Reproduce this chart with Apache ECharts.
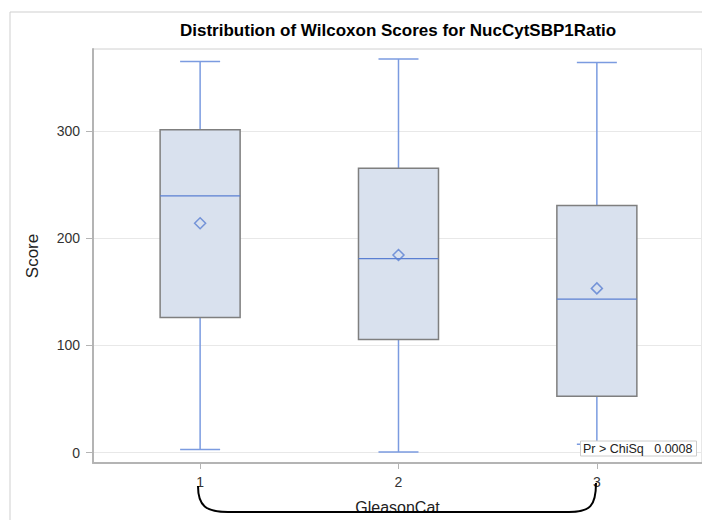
<!DOCTYPE html>
<html>
<head>
<meta charset="utf-8">
<script src="https://cdn.jsdelivr.net/npm/echarts@6/dist/echarts.min.js"></script>
<style>
  html, body { margin: 0; padding: 0; background: #fff; }
  #main { width: 702px; height: 520px; }
</style>
</head>
<body>
<div id="main"></div>
<script>
// categories of GleasonCat
var groups = [1, 2, 3];
// five-number summaries: min, Q1, median, Q3, max
var whiskerLow = [2.8, 0.6, 7.7];
var q1 = [126, 105.5, 52.6];
var median = [239.3, 180.8, 143.1];
var q3 = [300.9, 265.2, 230.3];
var whiskerHigh = [364.7, 366.9, 363.8];
var means = [213.8, 184.2, 153.1];
var yTicks = [0, 100, 200, 300];
var pValueText = 'Pr > ChiSq   0.0008';

var font = 'Liberation Sans, Arial, sans-serif';
var whiskerColor = '#7b9be0';
var medianColor = '#5a7fd2';

var boxData = [];
var meanData = [];
for (var i = 0; i < groups.length; i++) {
    boxData.push([groups[i], whiskerLow[i], q1[i], median[i], q3[i], whiskerHigh[i]]);
    meanData.push([groups[i], means[i]]);
}

function renderBox(params, api) {
    var x = api.value(0);
    var lo = api.coord([x, api.value(1)]);
    var b1 = api.coord([x, api.value(2)]);
    var md = api.coord([x, api.value(3)]);
    var b3 = api.coord([x, api.value(4)]);
    var hi = api.coord([x, api.value(5)]);
    var cx = lo[0];
    var bw = 80, cw = 40;
    var wStyle = { stroke: whiskerColor, lineWidth: 1.5 };
    return {
        type: 'group',
        children: [
            { type: 'line', shape: { x1: cx, y1: hi[1], x2: cx, y2: b3[1] }, style: wStyle },
            { type: 'line', shape: { x1: cx, y1: b1[1], x2: cx, y2: lo[1] }, style: wStyle },
            { type: 'line', shape: { x1: cx - cw / 2, y1: hi[1], x2: cx + cw / 2, y2: hi[1] }, style: wStyle },
            { type: 'line', shape: { x1: cx - cw / 2, y1: lo[1], x2: cx + cw / 2, y2: lo[1] }, style: wStyle },
            {
                type: 'rect',
                shape: { x: cx - bw / 2, y: b3[1], width: bw, height: b1[1] - b3[1] },
                style: { fill: '#d9e1ee', stroke: '#7f7f7f', lineWidth: 1.5 }
            },
            { type: 'line', shape: { x1: cx - bw / 2, y1: md[1], x2: cx + bw / 2, y2: md[1] }, style: { stroke: medianColor, lineWidth: 1.3 } }
        ]
    };
}

var myChart = echarts.init(document.getElementById('main'), null, { renderer: 'svg' });

var bracketStyle = { fill: 'none', stroke: '#000', lineWidth: 2 };

var option = {
    animation: false,
    backgroundColor: '#fff',
    title: {
        text: 'Distribution of Wilcoxon Scores for NucCytSBP1Ratio',
        left: 180,
        top: 22,
        padding: 0,
        textStyle: { fontFamily: font, fontSize: 17, fontWeight: 'bold', color: '#000' }
    },
    grid: {
        left: 93, right: 0, top: 49, bottom: 57,
        show: true, borderColor: '#d0d0d0', borderWidth: 1
    },
    xAxis: {
        type: 'value',
        min: 0.46,
        max: 3.53,
        name: 'GleasonCat',
        nameLocation: 'middle',
        nameGap: 36,
        nameTextStyle: { fontFamily: font, fontSize: 16, color: '#222' },
        axisLine: { show: true, onZero: false, lineStyle: { color: '#b4b4b4', width: 2 } },
        axisTick: { show: true, length: 6, customValues: groups, lineStyle: { color: '#b4b4b4' } },
        axisLabel: { customValues: groups, margin: 12, fontFamily: font, fontSize: 14, color: '#333' },
        splitLine: { show: false }
    },
    yAxis: {
        type: 'value',
        min: -9.7,
        max: 376.3,
        name: 'Score',
        nameLocation: 'middle',
        nameGap: 52,
        nameTextStyle: { fontFamily: font, fontSize: 17, color: '#222' },
        axisLine: { show: true, onZero: false, lineStyle: { color: '#b4b4b4', width: 2 } },
        axisTick: { show: true, length: 7, customValues: yTicks, lineStyle: { color: '#b4b4b4' } },
        axisLabel: { customValues: yTicks, margin: 13, fontFamily: font, fontSize: 14, color: '#333' },
        splitLine: { show: true, lineStyle: { color: '#e8e8e8', width: 1 } }
    },
    series: [{
        type: 'custom',
        renderItem: renderBox,
        data: boxData,
        encode: { x: 0, y: [1, 2, 3, 4, 5] },
        z: 2
    }, {
        type: 'scatter',
        data: meanData,
        symbol: 'diamond',
        symbolSize: [11, 11],
        itemStyle: { color: 'rgba(0,0,0,0)', borderColor: '#5a7fd2', borderWidth: 1.5 },
        z: 3
    }],
    graphic: [
        {
            type: 'rect',
            shape: { x: 10, y: 12, width: 800, height: 600 },
            style: { fill: 'none', stroke: '#cfcfcf', lineWidth: 1 },
            silent: true
        },
        {
            type: 'rect',
            z: 100,
            shape: { x: 580.5, y: 441, width: 116, height: 15 },
            style: { fill: '#fff', stroke: '#cccccc', lineWidth: 1 }
        },
        {
            type: 'text',
            z: 101,
            x: 583, y: 449,
            style: { text: pValueText, fontFamily: font, fontSize: 12.5, fill: '#222', verticalAlign: 'middle' }
        },
        {
            type: 'bezierCurve',
            z: 100,
            shape: { x1: 198, y1: 486, cpx1: 198, cpy1: 506, cpx2: 206, cpy2: 512, x2: 228, y2: 512 },
            style: bracketStyle
        },
        {
            type: 'line',
            z: 100,
            shape: { x1: 228, y1: 512, x2: 569, y2: 512 },
            style: bracketStyle
        },
        {
            type: 'bezierCurve',
            z: 100,
            shape: { x1: 569, y1: 512, cpx1: 590, cpy1: 512, cpx2: 596, cpy2: 506, x2: 596, y2: 483 },
            style: bracketStyle
        }
    ]
};

myChart.setOption(option);
</script>
</body>
</html>
